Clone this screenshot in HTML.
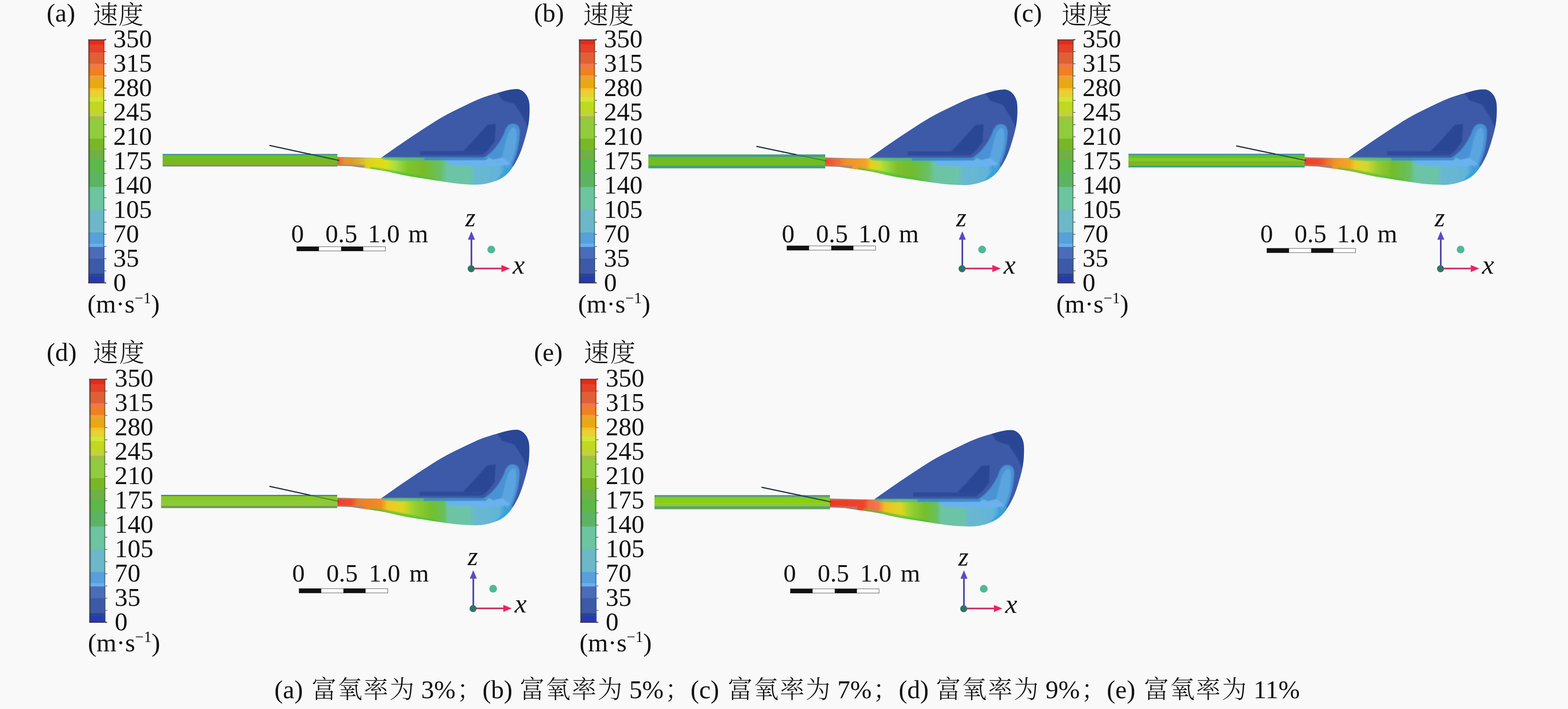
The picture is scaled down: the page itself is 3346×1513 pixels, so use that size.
<!DOCTYPE html>
<html lang="zh-CN"><head><meta charset="utf-8"><title>速度云图</title>
<style>html,body{margin:0;padding:0;background:#f9f9f9;}body{width:3346px;height:1513px;overflow:hidden;}svg{display:block;}text{font-family:"Liberation Serif", "Noto Serif CJK SC", serif;fill:#111;}</style>
</head><body>
<svg width="3346" height="1513" viewBox="0 0 3346 1513" role="img" aria-label="速度云图">
<defs>
<clipPath id="fclipa"><path d="M720 334.7 L783.5 336.4 L813.0 336.9 C821.2 331.2 846.8 313.1 862.0 302.8 C877.2 292.4 890.2 283.7 904.0 274.8 C917.8 265.8 931.3 257.0 945.0 249.2 C958.7 241.5 972.3 235.0 986.0 228.3 C999.7 221.7 1013.3 214.8 1027.0 209.5 C1040.7 204.2 1056.7 199.7 1068.0 196.5 C1079.3 193.3 1088.0 191.4 1095.0 190.6 C1102.0 189.8 1105.5 189.9 1110.0 191.6 C1114.5 193.3 1118.8 196.8 1122.0 201.0 C1125.2 205.2 1127.7 210.5 1129.0 217.0 C1130.3 223.5 1130.2 232.3 1130.0 240.0 C1129.8 247.7 1129.3 254.8 1128.0 263.0 C1126.7 271.2 1125.0 278.9 1122.0 289.5 C1119.0 300.1 1114.5 315.6 1110.0 326.5 C1105.5 337.4 1100.2 347.1 1095.0 355.0 C1089.8 362.9 1085.2 368.8 1079.0 374.0 C1072.8 379.2 1066.7 382.8 1058.0 386.0 C1049.3 389.2 1039.0 392.4 1027.0 393.5 C1015.0 394.6 999.7 393.7 986.0 392.7 C972.3 391.7 958.7 389.4 945.0 387.5 C931.3 385.5 917.8 383.3 904.0 381.1 C890.2 378.8 875.8 376.6 862.0 374.0 C848.2 371.3 834.7 367.5 821.0 365.0 C807.3 362.5 786.8 360.0 780.0 359.0 L750 354.8 L720 353.8 Z"/></clipPath>
<clipPath id="fclipb"><path d="M720 335.1 L783.5 336.7 L813.0 337.1 C821.2 331.4 846.8 313.1 862.0 302.8 C877.2 292.4 890.2 283.7 904.0 274.8 C917.8 265.8 931.3 257.0 945.0 249.2 C958.7 241.5 972.3 235.0 986.0 228.3 C999.7 221.7 1013.3 214.8 1027.0 209.5 C1040.7 204.2 1056.7 199.7 1068.0 196.5 C1079.3 193.3 1088.0 191.4 1095.0 190.6 C1102.0 189.8 1105.5 189.9 1110.0 191.6 C1114.5 193.3 1118.8 196.8 1122.0 201.0 C1125.2 205.2 1127.7 210.5 1129.0 217.0 C1130.3 223.5 1130.2 232.3 1130.0 240.0 C1129.8 247.7 1129.3 254.8 1128.0 263.0 C1126.7 271.2 1125.0 278.9 1122.0 289.5 C1119.0 300.1 1114.5 315.6 1110.0 326.5 C1105.5 337.4 1100.2 347.1 1095.0 355.0 C1089.8 362.9 1085.2 368.8 1079.0 374.0 C1072.8 379.2 1066.7 382.8 1058.0 386.0 C1049.3 389.2 1039.0 392.4 1027.0 393.5 C1015.0 394.6 999.7 393.7 986.0 392.8 C972.3 391.9 958.7 389.7 945.0 387.9 C931.3 386.0 917.8 383.9 904.0 381.7 C890.2 379.6 875.8 377.6 862.0 374.9 C848.2 372.3 834.7 368.4 821.0 365.8 C807.3 363.2 786.8 360.6 780.0 359.6 L750 355.0 L720 354.0 Z"/></clipPath>
<clipPath id="fclipc"><path d="M720 334.9 L783.5 336.6 L813.0 337.0 C821.2 331.3 846.8 313.1 862.0 302.8 C877.2 292.4 890.2 283.7 904.0 274.8 C917.8 265.8 931.3 257.0 945.0 249.2 C958.7 241.5 972.3 235.0 986.0 228.3 C999.7 221.7 1013.3 214.8 1027.0 209.5 C1040.7 204.2 1056.7 199.7 1068.0 196.5 C1079.3 193.3 1088.0 191.4 1095.0 190.6 C1102.0 189.8 1105.5 189.9 1110.0 191.6 C1114.5 193.3 1118.8 196.8 1122.0 201.0 C1125.2 205.2 1127.7 210.5 1129.0 217.0 C1130.3 223.5 1130.2 232.3 1130.0 240.0 C1129.8 247.7 1129.3 254.8 1128.0 263.0 C1126.7 271.2 1125.0 278.9 1122.0 289.5 C1119.0 300.1 1114.5 315.6 1110.0 326.5 C1105.5 337.4 1100.2 347.1 1095.0 355.0 C1089.8 362.9 1085.2 368.8 1079.0 374.0 C1072.8 379.2 1066.7 382.8 1058.0 386.0 C1049.3 389.2 1039.0 392.4 1027.0 393.5 C1015.0 394.6 999.7 393.7 986.0 392.8 C972.3 391.8 958.7 389.6 945.0 387.7 C931.3 385.8 917.8 383.6 904.0 381.4 C890.2 379.2 875.8 377.1 862.0 374.4 C848.2 371.8 834.7 367.9 821.0 365.4 C807.3 362.9 786.8 360.3 780.0 359.3 L750 354.9 L720 353.9 Z"/></clipPath>
<clipPath id="fclipd"><path d="M720 335.1 L783.5 336.7 L813.0 337.1 C821.2 331.4 846.8 313.1 862.0 302.8 C877.2 292.4 890.2 283.7 904.0 274.8 C917.8 265.8 931.3 257.0 945.0 249.2 C958.7 241.5 972.3 235.0 986.0 228.3 C999.7 221.7 1013.3 214.8 1027.0 209.5 C1040.7 204.2 1056.7 199.7 1068.0 196.5 C1079.3 193.3 1088.0 191.4 1095.0 190.6 C1102.0 189.8 1105.5 189.9 1110.0 191.6 C1114.5 193.3 1118.8 196.8 1122.0 201.0 C1125.2 205.2 1127.7 210.5 1129.0 217.0 C1130.3 223.5 1130.2 232.3 1130.0 240.0 C1129.8 247.7 1129.3 254.8 1128.0 263.0 C1126.7 271.2 1125.0 278.9 1122.0 289.5 C1119.0 300.1 1114.5 315.6 1110.0 326.5 C1105.5 337.4 1100.2 347.1 1095.0 355.0 C1089.8 362.9 1085.2 368.8 1079.0 374.0 C1072.8 379.2 1066.7 382.8 1058.0 386.0 C1049.3 389.2 1039.0 392.4 1027.0 393.5 C1015.0 394.6 999.7 393.7 986.0 392.8 C972.3 391.9 958.7 389.7 945.0 387.9 C931.3 386.0 917.8 383.9 904.0 381.7 C890.2 379.6 875.8 377.6 862.0 374.9 C848.2 372.3 834.7 368.4 821.0 365.8 C807.3 363.2 786.8 360.6 780.0 359.6 L750 355.0 L720 354.0 Z"/></clipPath>
<clipPath id="fclipe"><path d="M720 334.9 L783.5 336.6 L813.0 337.0 C821.2 331.3 846.8 313.1 862.0 302.8 C877.2 292.4 890.2 283.7 904.0 274.8 C917.8 265.8 931.3 257.0 945.0 249.2 C958.7 241.5 972.3 235.0 986.0 228.3 C999.7 221.7 1013.3 214.8 1027.0 209.5 C1040.7 204.2 1056.7 199.7 1068.0 196.5 C1079.3 193.3 1088.0 191.4 1095.0 190.6 C1102.0 189.8 1105.5 189.9 1110.0 191.6 C1114.5 193.3 1118.8 196.8 1122.0 201.0 C1125.2 205.2 1127.7 210.5 1129.0 217.0 C1130.3 223.5 1130.2 232.3 1130.0 240.0 C1129.8 247.7 1129.3 254.8 1128.0 263.0 C1126.7 271.2 1125.0 278.9 1122.0 289.5 C1119.0 300.1 1114.5 315.6 1110.0 326.5 C1105.5 337.4 1100.2 347.1 1095.0 355.0 C1089.8 362.9 1085.2 368.8 1079.0 374.0 C1072.8 379.2 1066.7 382.8 1058.0 386.0 C1049.3 389.2 1039.0 392.4 1027.0 393.5 C1015.0 394.6 999.7 393.7 986.0 392.8 C972.3 391.8 958.7 389.6 945.0 387.7 C931.3 385.8 917.8 383.6 904.0 381.4 C890.2 379.2 875.8 377.1 862.0 374.4 C848.2 371.8 834.7 367.9 821.0 365.4 C807.3 362.9 786.8 360.3 780.0 359.3 L750 354.9 L720 353.9 Z"/></clipPath>
<filter id="soft" x="-5%" y="-5%" width="110%" height="110%"><feGaussianBlur stdDeviation="1.2"/></filter>
<filter id="soft2" x="-20%" y="-2%" width="140%" height="104%"><feGaussianBlur stdDeviation="0.7"/></filter>
<linearGradient id="banda" gradientUnits="userSpaceOnUse" x1="720" y1="0" x2="1085" y2="0"><stop offset="0.0000" stop-color="#e8582a"/><stop offset="0.0164" stop-color="#e8782a"/><stop offset="0.0438" stop-color="#e8952a"/><stop offset="0.0877" stop-color="#e09a2c"/><stop offset="0.1260" stop-color="#d8b030"/><stop offset="0.1808" stop-color="#e0d41c"/><stop offset="0.2904" stop-color="#dce018"/><stop offset="0.3342" stop-color="#a8e040"/><stop offset="0.4110" stop-color="#80c42c"/><stop offset="0.5068" stop-color="#78bc28"/><stop offset="0.5973" stop-color="#68c060"/><stop offset="0.6438" stop-color="#6cc4a4"/><stop offset="0.7753" stop-color="#6cc4a8"/><stop offset="0.8055" stop-color="#6ab8d0"/><stop offset="0.9479" stop-color="#62b4d8"/><stop offset="0.9918" stop-color="#3c9cd8"/></linearGradient>
<linearGradient id="bandb" gradientUnits="userSpaceOnUse" x1="720" y1="0" x2="1085" y2="0"><stop offset="0.0000" stop-color="#f04c30"/><stop offset="0.0356" stop-color="#f05a30"/><stop offset="0.0795" stop-color="#f07030"/><stop offset="0.1151" stop-color="#f09028"/><stop offset="0.2356" stop-color="#f0a428"/><stop offset="0.2685" stop-color="#e8d020"/><stop offset="0.3178" stop-color="#c8dc30"/><stop offset="0.3616" stop-color="#98d838"/><stop offset="0.4219" stop-color="#7cc02c"/><stop offset="0.5068" stop-color="#70bc30"/><stop offset="0.5973" stop-color="#68c060"/><stop offset="0.6438" stop-color="#6cc4a4"/><stop offset="0.7753" stop-color="#6cc4a8"/><stop offset="0.8055" stop-color="#6ab8d0"/><stop offset="0.9479" stop-color="#62b4d8"/><stop offset="0.9918" stop-color="#3c9cd8"/></linearGradient>
<linearGradient id="bandc" gradientUnits="userSpaceOnUse" x1="720" y1="0" x2="1085" y2="0"><stop offset="0.0000" stop-color="#f04028"/><stop offset="0.0932" stop-color="#f04c2c"/><stop offset="0.1315" stop-color="#f07028"/><stop offset="0.1753" stop-color="#f09428"/><stop offset="0.2630" stop-color="#f0a824"/><stop offset="0.2959" stop-color="#e8d020"/><stop offset="0.3616" stop-color="#d0d830"/><stop offset="0.4274" stop-color="#98cc30"/><stop offset="0.5151" stop-color="#74bc2c"/><stop offset="0.6137" stop-color="#68c060"/><stop offset="0.6438" stop-color="#6cc4a4"/><stop offset="0.7753" stop-color="#6cc4a8"/><stop offset="0.8055" stop-color="#6ab8d0"/><stop offset="0.9479" stop-color="#62b4d8"/><stop offset="0.9918" stop-color="#3c9cd8"/></linearGradient>
<linearGradient id="bandd" gradientUnits="userSpaceOnUse" x1="720" y1="0" x2="1085" y2="0"><stop offset="0.0000" stop-color="#f03c24"/><stop offset="0.0822" stop-color="#f04c2c"/><stop offset="0.1205" stop-color="#f07c28"/><stop offset="0.2575" stop-color="#f08c28"/><stop offset="0.2959" stop-color="#f0c820"/><stop offset="0.3836" stop-color="#dcd820"/><stop offset="0.4493" stop-color="#98d030"/><stop offset="0.5479" stop-color="#74c02c"/><stop offset="0.6301" stop-color="#68c060"/><stop offset="0.6438" stop-color="#6cc4a4"/><stop offset="0.7753" stop-color="#6cc4a8"/><stop offset="0.8055" stop-color="#6ab8d0"/><stop offset="0.9479" stop-color="#62b4d8"/><stop offset="0.9918" stop-color="#3c9cd8"/></linearGradient>
<linearGradient id="bande" gradientUnits="userSpaceOnUse" x1="720" y1="0" x2="1085" y2="0"><stop offset="0.0000" stop-color="#ee3820"/><stop offset="0.1973" stop-color="#f04428"/><stop offset="0.2247" stop-color="#f06c44"/><stop offset="0.2795" stop-color="#f07848"/><stop offset="0.3178" stop-color="#f0c020"/><stop offset="0.4110" stop-color="#dcd820"/><stop offset="0.4658" stop-color="#98d030"/><stop offset="0.5479" stop-color="#74c02c"/><stop offset="0.6192" stop-color="#68c060"/><stop offset="0.6438" stop-color="#6cc4a4"/><stop offset="0.7753" stop-color="#6cc4a8"/><stop offset="0.8055" stop-color="#6ab8d0"/><stop offset="0.9479" stop-color="#62b4d8"/><stop offset="0.9918" stop-color="#3c9cd8"/></linearGradient>
</defs>
<rect width="3346" height="1513" fill="#f9f9f9"/>
<g id="panel-a">
<g filter="url(#soft2)">
<rect x="189.0" y="84.0" width="34.0" height="11.5" fill="#e62a14"/>
<rect x="189.0" y="95.0" width="34.0" height="17.5" fill="#e6402a"/>
<rect x="189.0" y="112.0" width="34.0" height="24.5" fill="#e06034"/>
<rect x="189.0" y="136.0" width="34.0" height="8.5" fill="#f0784c"/>
<rect x="189.0" y="144.0" width="34.0" height="17.5" fill="#f08022"/>
<rect x="189.0" y="161.0" width="34.0" height="7.5" fill="#f0a034"/>
<rect x="189.0" y="168.0" width="34.0" height="20.5" fill="#e8a818"/>
<rect x="189.0" y="188.0" width="34.0" height="5.5" fill="#f8c024"/>
<rect x="189.0" y="193.0" width="34.0" height="14.5" fill="#e8d034"/>
<rect x="189.0" y="207.0" width="34.0" height="10.5" fill="#d0e830"/>
<rect x="189.0" y="217.0" width="34.0" height="24.5" fill="#c0d822"/>
<rect x="189.0" y="241.0" width="34.0" height="7.5" fill="#c0d050"/>
<rect x="189.0" y="248.0" width="34.0" height="8.5" fill="#a4c040"/>
<rect x="189.0" y="256.0" width="34.0" height="40.5" fill="#90cc3c"/>
<rect x="189.0" y="296.0" width="34.0" height="24.5" fill="#78b828"/>
<rect x="189.0" y="320.0" width="34.0" height="20.5" fill="#70b044"/>
<rect x="189.0" y="340.0" width="34.0" height="28.5" fill="#5cb848"/>
<rect x="189.0" y="368.0" width="34.0" height="31.5" fill="#5cb464"/>
<rect x="189.0" y="399.0" width="34.0" height="49.5" fill="#6cc4a0"/>
<rect x="189.0" y="448.0" width="34.0" height="48.5" fill="#6cb8c8"/>
<rect x="189.0" y="496.0" width="34.0" height="24.5" fill="#58a0dc"/>
<rect x="189.0" y="520.0" width="34.0" height="7.5" fill="#68b0f0"/>
<rect x="189.0" y="527.0" width="34.0" height="25.5" fill="#4c6cb8"/>
<rect x="189.0" y="552.0" width="34.0" height="32.5" fill="#3c5aa8"/>
<rect x="189.0" y="584.0" width="34.0" height="7.5" fill="#2c4490"/>
<rect x="189.0" y="591.0" width="34.0" height="13.5" fill="#2838b8"/>
<rect x="188.0" y="84.0" width="4" height="520.0" fill="#3a3a3a" opacity="0.55"/>
<rect x="188.0" y="84.0" width="38.0" height="2.5" fill="#4a4a4a" opacity="0.8"/>
<rect x="188.0" y="602.0" width="38.0" height="2.5" fill="#3a3a3a" opacity="0.8"/>
<rect x="220.0" y="84.0" width="2" height="520.0" fill="#4a5a4a" opacity="0.5"/>
<rect x="222.0" y="83.0" width="5" height="2" fill="#555" opacity="0.7"/>
<rect x="222.0" y="109.0" width="5" height="2" fill="#555" opacity="0.7"/>
<rect x="222.0" y="135.0" width="5" height="2" fill="#555" opacity="0.7"/>
<rect x="222.0" y="161.0" width="5" height="2" fill="#555" opacity="0.7"/>
<rect x="222.0" y="187.0" width="5" height="2" fill="#555" opacity="0.7"/>
<rect x="222.0" y="213.0" width="5" height="2" fill="#555" opacity="0.7"/>
<rect x="222.0" y="239.0" width="5" height="2" fill="#555" opacity="0.7"/>
<rect x="222.0" y="265.0" width="5" height="2" fill="#555" opacity="0.7"/>
<rect x="222.0" y="291.0" width="5" height="2" fill="#555" opacity="0.7"/>
<rect x="222.0" y="317.0" width="5" height="2" fill="#555" opacity="0.7"/>
<rect x="222.0" y="343.0" width="5" height="2" fill="#555" opacity="0.7"/>
<rect x="222.0" y="369.0" width="5" height="2" fill="#555" opacity="0.7"/>
<rect x="222.0" y="395.0" width="5" height="2" fill="#555" opacity="0.7"/>
<rect x="222.0" y="421.0" width="5" height="2" fill="#555" opacity="0.7"/>
<rect x="222.0" y="447.0" width="5" height="2" fill="#555" opacity="0.7"/>
<rect x="222.0" y="473.0" width="5" height="2" fill="#555" opacity="0.7"/>
<rect x="222.0" y="499.0" width="5" height="2" fill="#555" opacity="0.7"/>
<rect x="222.0" y="525.0" width="5" height="2" fill="#555" opacity="0.7"/>
<rect x="222.0" y="551.0" width="5" height="2" fill="#555" opacity="0.7"/>
<rect x="222.0" y="577.0" width="5" height="2" fill="#555" opacity="0.7"/>
<rect x="222.0" y="603.0" width="5" height="2" fill="#555" opacity="0.7"/>
</g>
<text x="241.7" y="100.5" font-size="55.0" >350</text>
<text x="241.7" y="152.5" font-size="55.0" >315</text>
<text x="241.7" y="204.5" font-size="55.0" >280</text>
<text x="241.7" y="256.5" font-size="55.0" >245</text>
<text x="241.7" y="308.5" font-size="55.0" >210</text>
<text x="241.7" y="360.5" font-size="55.0" >175</text>
<text x="241.7" y="412.5" font-size="55.0" >140</text>
<text x="241.7" y="464.5" font-size="55.0" >105</text>
<text x="241.7" y="516.5" font-size="55.0" >70</text>
<text x="241.7" y="568.5" font-size="55.0" >35</text>
<text x="241.7" y="620.5" font-size="55.0" >0</text>
<text x="99.5" y="45.5" font-size="55.0" >(a)</text>
<text x="198.0" y="50.5" font-size="54.0" font-weight="300" textLength="108.5">速度</text>
<text x="186.5" y="667.0" font-size="55">(m·s<tspan dy="-20" font-size="33">−1</tspan><tspan dy="20" font-size="55">)</tspan></text>
<g>
<rect x="347.0" y="328.5" width="373.0" height="2.7" fill="#4a86a0"/>
<rect x="347.0" y="330.9" width="373.0" height="5.9" fill="#5cc81c"/>
<rect x="347.0" y="336.4" width="373.0" height="15.9" fill="#7ab820"/>
<rect x="347.0" y="352.1" width="373.0" height="3.2" fill="#808080"/>
</g>
<g transform="translate(0.0 0.0) translate(720 340) scale(1.0000) translate(-720 -340)">
<g clip-path="url(#fclipa)" filter="url(#soft)">
<rect x="700" y="180" width="450" height="230" fill="#3d5aa8"/>
<path d="M1056 190 L1140 180 L1140 300 L1116 250 L1098 222 L1072 214Z" fill="#2b4696"/>
<path d="M984 327 L1010 300 L1040 266 L1058 264 L1056 302 L1040 322 L1030 330Z" fill="#2b4696"/>
<path d="M896 322 L1036 322 L1030 331 L896 331Z" fill="#2f4a9a"/>
<path d="M1030 338 C1052 326 1066 306 1076 284 C1080 270 1086 264 1094 264 C1106 264 1110 272 1109 286 C1107 316 1100 350 1072 386 L1030 386Z" fill="#4a92d4"/>
<path d="M1080 300 C1084 282 1090 272 1097 272 C1103 274 1104 290 1100 314 C1096 336 1090 350 1082 360 L1070 340Z" fill="#5aa4e0"/>
<path d="M715 320 L783.5 335.9 L811 335.9 L900 336.3 L1045 336.5 L1076 352 L1090 402 L715 402Z" fill="url(#banda)"/>
<path d="M716 331.7 L792 334.2 L792 337.3 L716 336.9 Z" fill="#8e988e" opacity="0.85"/>
<path d="M716 351.1 L778 352.1 L778 357.8 L716 356.8 Z" fill="#8c8c8c" opacity="0.85"/>
<path d="M811 336 L912 336.5 L912 343 L850 343 L820 341Z" fill="#4cb888" opacity="0.75"/>
<path d="M790 356 L830 362 L930 382 L930 390 L790 362Z" fill="#48c040" opacity="0.7"/>
<path d="M905 337 L1042 337 L1036 342.5 L905 342Z" fill="#2e88d0" opacity="0.9"/>
<path d="M950 342 L1050 341.5 L1072 336 L1090 350 L1066 354 L1000 354 L960 352Z" fill="#6ab2ee"/>
<path d="M1066 376 L1090 350 L1100 360 L1084 392 L1050 396Z" fill="#34a4dc" opacity="0.8"/>
</g>
</g>
<line x1="659.2" y1="328.5" x2="724.0" y2="342.5" stroke="#143c58" stroke-width="2.8" opacity="0.85"/><line x1="576.0" y1="310.5" x2="661.2" y2="328.9" stroke="#20323c" stroke-width="2.6" stroke-linecap="round"/>
<g>
<rect x="633.3" y="526.5" width="189.2" height="9" fill="#fff" stroke="#555" stroke-width="1"/>
<rect x="633.3" y="526.2" width="47.3" height="9.6" fill="#111"/>
<rect x="727.9" y="526.2" width="47.3" height="9.6" fill="#111"/>
</g>
<text x="621.3" y="517.0" font-size="54.5" >0</text>
<text x="694.3" y="517.0" font-size="54.5" >0.5</text>
<text x="784.8" y="517.0" font-size="54.5" >1.0</text>
<text x="871.3" y="517.0" font-size="54.5" >m</text>
<g>
<line x1="1006.0" y1="573.0" x2="1006.0" y2="511.0" stroke="#4a3ca0" stroke-width="3.4"/>
<path d="M1006.0 493.5 l-7.5 18 l15 0Z" fill="#5a48c8"/>
<line x1="1006.0" y1="573.0" x2="1070.0" y2="573.0" stroke="#c83060" stroke-width="3.4"/>
<path d="M1088.0 573.0 l-18 -7.5 l0 15Z" fill="#f0205c"/>
<circle cx="1005.5" cy="573.5" r="7.5" fill="#2f7464"/>
<circle cx="1048.3" cy="532.5" r="8.3" fill="#50b898"/>
</g>
<text x="993.0" y="483.0" font-size="56.0" font-style="italic">z</text>
<text x="1094.0" y="584.0" font-size="58.0" font-style="italic">x</text>
</g>
<g id="panel-b">
<g filter="url(#soft2)">
<rect x="1236.0" y="84.0" width="34.0" height="11.5" fill="#e62a14"/>
<rect x="1236.0" y="95.0" width="34.0" height="17.5" fill="#e6402a"/>
<rect x="1236.0" y="112.0" width="34.0" height="24.5" fill="#e06034"/>
<rect x="1236.0" y="136.0" width="34.0" height="8.5" fill="#f0784c"/>
<rect x="1236.0" y="144.0" width="34.0" height="17.5" fill="#f08022"/>
<rect x="1236.0" y="161.0" width="34.0" height="7.5" fill="#f0a034"/>
<rect x="1236.0" y="168.0" width="34.0" height="20.5" fill="#e8a818"/>
<rect x="1236.0" y="188.0" width="34.0" height="5.5" fill="#f8c024"/>
<rect x="1236.0" y="193.0" width="34.0" height="14.5" fill="#e8d034"/>
<rect x="1236.0" y="207.0" width="34.0" height="10.5" fill="#d0e830"/>
<rect x="1236.0" y="217.0" width="34.0" height="24.5" fill="#c0d822"/>
<rect x="1236.0" y="241.0" width="34.0" height="7.5" fill="#c0d050"/>
<rect x="1236.0" y="248.0" width="34.0" height="8.5" fill="#a4c040"/>
<rect x="1236.0" y="256.0" width="34.0" height="40.5" fill="#90cc3c"/>
<rect x="1236.0" y="296.0" width="34.0" height="24.5" fill="#78b828"/>
<rect x="1236.0" y="320.0" width="34.0" height="20.5" fill="#70b044"/>
<rect x="1236.0" y="340.0" width="34.0" height="28.5" fill="#5cb848"/>
<rect x="1236.0" y="368.0" width="34.0" height="31.5" fill="#5cb464"/>
<rect x="1236.0" y="399.0" width="34.0" height="49.5" fill="#6cc4a0"/>
<rect x="1236.0" y="448.0" width="34.0" height="48.5" fill="#6cb8c8"/>
<rect x="1236.0" y="496.0" width="34.0" height="24.5" fill="#58a0dc"/>
<rect x="1236.0" y="520.0" width="34.0" height="7.5" fill="#68b0f0"/>
<rect x="1236.0" y="527.0" width="34.0" height="25.5" fill="#4c6cb8"/>
<rect x="1236.0" y="552.0" width="34.0" height="32.5" fill="#3c5aa8"/>
<rect x="1236.0" y="584.0" width="34.0" height="7.5" fill="#2c4490"/>
<rect x="1236.0" y="591.0" width="34.0" height="13.5" fill="#2838b8"/>
<rect x="1235.0" y="84.0" width="4" height="520.0" fill="#3a3a3a" opacity="0.55"/>
<rect x="1235.0" y="84.0" width="38.0" height="2.5" fill="#4a4a4a" opacity="0.8"/>
<rect x="1235.0" y="602.0" width="38.0" height="2.5" fill="#3a3a3a" opacity="0.8"/>
<rect x="1267.0" y="84.0" width="2" height="520.0" fill="#4a5a4a" opacity="0.5"/>
<rect x="1269.0" y="83.0" width="5" height="2" fill="#555" opacity="0.7"/>
<rect x="1269.0" y="109.0" width="5" height="2" fill="#555" opacity="0.7"/>
<rect x="1269.0" y="135.0" width="5" height="2" fill="#555" opacity="0.7"/>
<rect x="1269.0" y="161.0" width="5" height="2" fill="#555" opacity="0.7"/>
<rect x="1269.0" y="187.0" width="5" height="2" fill="#555" opacity="0.7"/>
<rect x="1269.0" y="213.0" width="5" height="2" fill="#555" opacity="0.7"/>
<rect x="1269.0" y="239.0" width="5" height="2" fill="#555" opacity="0.7"/>
<rect x="1269.0" y="265.0" width="5" height="2" fill="#555" opacity="0.7"/>
<rect x="1269.0" y="291.0" width="5" height="2" fill="#555" opacity="0.7"/>
<rect x="1269.0" y="317.0" width="5" height="2" fill="#555" opacity="0.7"/>
<rect x="1269.0" y="343.0" width="5" height="2" fill="#555" opacity="0.7"/>
<rect x="1269.0" y="369.0" width="5" height="2" fill="#555" opacity="0.7"/>
<rect x="1269.0" y="395.0" width="5" height="2" fill="#555" opacity="0.7"/>
<rect x="1269.0" y="421.0" width="5" height="2" fill="#555" opacity="0.7"/>
<rect x="1269.0" y="447.0" width="5" height="2" fill="#555" opacity="0.7"/>
<rect x="1269.0" y="473.0" width="5" height="2" fill="#555" opacity="0.7"/>
<rect x="1269.0" y="499.0" width="5" height="2" fill="#555" opacity="0.7"/>
<rect x="1269.0" y="525.0" width="5" height="2" fill="#555" opacity="0.7"/>
<rect x="1269.0" y="551.0" width="5" height="2" fill="#555" opacity="0.7"/>
<rect x="1269.0" y="577.0" width="5" height="2" fill="#555" opacity="0.7"/>
<rect x="1269.0" y="603.0" width="5" height="2" fill="#555" opacity="0.7"/>
</g>
<text x="1288.7" y="100.5" font-size="55.0" >350</text>
<text x="1288.7" y="152.5" font-size="55.0" >315</text>
<text x="1288.7" y="204.5" font-size="55.0" >280</text>
<text x="1288.7" y="256.5" font-size="55.0" >245</text>
<text x="1288.7" y="308.5" font-size="55.0" >210</text>
<text x="1288.7" y="360.5" font-size="55.0" >175</text>
<text x="1288.7" y="412.5" font-size="55.0" >140</text>
<text x="1288.7" y="464.5" font-size="55.0" >105</text>
<text x="1288.7" y="516.5" font-size="55.0" >70</text>
<text x="1288.7" y="568.5" font-size="55.0" >35</text>
<text x="1288.7" y="620.5" font-size="55.0" >0</text>
<text x="1139.5" y="45.5" font-size="55.0" >(b)</text>
<text x="1244.2" y="50.5" font-size="54.0" font-weight="300" textLength="108.5">速度</text>
<text x="1233.5" y="667.0" font-size="55">(m·s<tspan dy="-20" font-size="33">−1</tspan><tspan dy="20" font-size="55">)</tspan></text>
<g>
<rect x="1383.5" y="329.5" width="377.5" height="6.2" fill="#44a07c"/>
<rect x="1383.5" y="335.4" width="377.5" height="18.0" fill="#70bc24"/>
<rect x="1383.5" y="353.1" width="377.5" height="6.2" fill="#44a07c"/>
</g>
<g transform="translate(1041.0 1.0) translate(720 340) scale(1.0000) translate(-720 -340)">
<g clip-path="url(#fclipb)" filter="url(#soft)">
<rect x="700" y="180" width="450" height="230" fill="#3d5aa8"/>
<path d="M1056 190 L1140 180 L1140 300 L1116 250 L1098 222 L1072 214Z" fill="#2b4696"/>
<path d="M984 327 L1010 300 L1040 266 L1058 264 L1056 302 L1040 322 L1030 330Z" fill="#2b4696"/>
<path d="M896 322 L1036 322 L1030 331 L896 331Z" fill="#2f4a9a"/>
<path d="M1030 338 C1052 326 1066 306 1076 284 C1080 270 1086 264 1094 264 C1106 264 1110 272 1109 286 C1107 316 1100 350 1072 386 L1030 386Z" fill="#4a92d4"/>
<path d="M1080 300 C1084 282 1090 272 1097 272 C1103 274 1104 290 1100 314 C1096 336 1090 350 1082 360 L1070 340Z" fill="#5aa4e0"/>
<path d="M715 320 L783.5 336.2 L811 336.1 L900 336.3 L1045 336.5 L1076 352 L1090 402 L715 402Z" fill="url(#bandb)"/>
<path d="M716 332.1 L792 334.6 L792 337.7 L716 337.3 Z" fill="#8e988e" opacity="0.85"/>
<path d="M716 351.4 L778 352.4 L778 358.0 L716 357.0 Z" fill="#8c8c8c" opacity="0.85"/>
<path d="M811 336 L912 336.5 L912 343 L850 343 L820 341Z" fill="#4cb888" opacity="0.75"/>
<path d="M790 356 L830 362 L930 382 L930 390 L790 362Z" fill="#48c040" opacity="0.7"/>
<path d="M905 337 L1042 337 L1036 342.5 L905 342Z" fill="#2e88d0" opacity="0.9"/>
<path d="M950 342 L1050 341.5 L1072 336 L1090 350 L1066 354 L1000 354 L960 352Z" fill="#6ab2ee"/>
<path d="M1066 376 L1090 350 L1100 360 L1084 392 L1050 396Z" fill="#34a4dc" opacity="0.8"/>
</g>
</g>
<line x1="1696.5" y1="329.5" x2="1764.0" y2="343.5" stroke="#143c58" stroke-width="2.8" opacity="0.40"/><line x1="1615.0" y1="312.6" x2="1698.5" y2="329.9" stroke="#20323c" stroke-width="2.6" stroke-linecap="round"/>
<g>
<rect x="1679.2" y="524.8" width="189.2" height="9" fill="#fff" stroke="#555" stroke-width="1"/>
<rect x="1679.2" y="524.5" width="47.3" height="9.6" fill="#111"/>
<rect x="1773.8" y="524.5" width="47.3" height="9.6" fill="#111"/>
</g>
<text x="1668.3" y="517.0" font-size="54.5" >0</text>
<text x="1741.3" y="517.0" font-size="54.5" >0.5</text>
<text x="1831.8" y="517.0" font-size="54.5" >1.0</text>
<text x="1918.3" y="517.0" font-size="54.5" >m</text>
<g>
<line x1="2053.5" y1="573.0" x2="2053.5" y2="511.0" stroke="#4a3ca0" stroke-width="3.4"/>
<path d="M2053.5 493.5 l-7.5 18 l15 0Z" fill="#5a48c8"/>
<line x1="2053.5" y1="573.0" x2="2117.5" y2="573.0" stroke="#c83060" stroke-width="3.4"/>
<path d="M2135.5 573.0 l-18 -7.5 l0 15Z" fill="#f0205c"/>
<circle cx="2053.0" cy="573.5" r="7.5" fill="#2f7464"/>
<circle cx="2095.8" cy="532.5" r="8.3" fill="#50b898"/>
</g>
<text x="2040.5" y="483.0" font-size="56.0" font-style="italic">z</text>
<text x="2141.5" y="584.0" font-size="58.0" font-style="italic">x</text>
</g>
<g id="panel-c">
<g filter="url(#soft2)">
<rect x="2257.0" y="84.0" width="34.0" height="11.5" fill="#e62a14"/>
<rect x="2257.0" y="95.0" width="34.0" height="17.5" fill="#e6402a"/>
<rect x="2257.0" y="112.0" width="34.0" height="24.5" fill="#e06034"/>
<rect x="2257.0" y="136.0" width="34.0" height="8.5" fill="#f0784c"/>
<rect x="2257.0" y="144.0" width="34.0" height="17.5" fill="#f08022"/>
<rect x="2257.0" y="161.0" width="34.0" height="7.5" fill="#f0a034"/>
<rect x="2257.0" y="168.0" width="34.0" height="20.5" fill="#e8a818"/>
<rect x="2257.0" y="188.0" width="34.0" height="5.5" fill="#f8c024"/>
<rect x="2257.0" y="193.0" width="34.0" height="14.5" fill="#e8d034"/>
<rect x="2257.0" y="207.0" width="34.0" height="10.5" fill="#d0e830"/>
<rect x="2257.0" y="217.0" width="34.0" height="24.5" fill="#c0d822"/>
<rect x="2257.0" y="241.0" width="34.0" height="7.5" fill="#c0d050"/>
<rect x="2257.0" y="248.0" width="34.0" height="8.5" fill="#a4c040"/>
<rect x="2257.0" y="256.0" width="34.0" height="40.5" fill="#90cc3c"/>
<rect x="2257.0" y="296.0" width="34.0" height="24.5" fill="#78b828"/>
<rect x="2257.0" y="320.0" width="34.0" height="20.5" fill="#70b044"/>
<rect x="2257.0" y="340.0" width="34.0" height="28.5" fill="#5cb848"/>
<rect x="2257.0" y="368.0" width="34.0" height="31.5" fill="#5cb464"/>
<rect x="2257.0" y="399.0" width="34.0" height="49.5" fill="#6cc4a0"/>
<rect x="2257.0" y="448.0" width="34.0" height="48.5" fill="#6cb8c8"/>
<rect x="2257.0" y="496.0" width="34.0" height="24.5" fill="#58a0dc"/>
<rect x="2257.0" y="520.0" width="34.0" height="7.5" fill="#68b0f0"/>
<rect x="2257.0" y="527.0" width="34.0" height="25.5" fill="#4c6cb8"/>
<rect x="2257.0" y="552.0" width="34.0" height="32.5" fill="#3c5aa8"/>
<rect x="2257.0" y="584.0" width="34.0" height="7.5" fill="#2c4490"/>
<rect x="2257.0" y="591.0" width="34.0" height="13.5" fill="#2838b8"/>
<rect x="2256.0" y="84.0" width="4" height="520.0" fill="#3a3a3a" opacity="0.55"/>
<rect x="2256.0" y="84.0" width="38.0" height="2.5" fill="#4a4a4a" opacity="0.8"/>
<rect x="2256.0" y="602.0" width="38.0" height="2.5" fill="#3a3a3a" opacity="0.8"/>
<rect x="2288.0" y="84.0" width="2" height="520.0" fill="#4a5a4a" opacity="0.5"/>
<rect x="2290.0" y="83.0" width="5" height="2" fill="#555" opacity="0.7"/>
<rect x="2290.0" y="109.0" width="5" height="2" fill="#555" opacity="0.7"/>
<rect x="2290.0" y="135.0" width="5" height="2" fill="#555" opacity="0.7"/>
<rect x="2290.0" y="161.0" width="5" height="2" fill="#555" opacity="0.7"/>
<rect x="2290.0" y="187.0" width="5" height="2" fill="#555" opacity="0.7"/>
<rect x="2290.0" y="213.0" width="5" height="2" fill="#555" opacity="0.7"/>
<rect x="2290.0" y="239.0" width="5" height="2" fill="#555" opacity="0.7"/>
<rect x="2290.0" y="265.0" width="5" height="2" fill="#555" opacity="0.7"/>
<rect x="2290.0" y="291.0" width="5" height="2" fill="#555" opacity="0.7"/>
<rect x="2290.0" y="317.0" width="5" height="2" fill="#555" opacity="0.7"/>
<rect x="2290.0" y="343.0" width="5" height="2" fill="#555" opacity="0.7"/>
<rect x="2290.0" y="369.0" width="5" height="2" fill="#555" opacity="0.7"/>
<rect x="2290.0" y="395.0" width="5" height="2" fill="#555" opacity="0.7"/>
<rect x="2290.0" y="421.0" width="5" height="2" fill="#555" opacity="0.7"/>
<rect x="2290.0" y="447.0" width="5" height="2" fill="#555" opacity="0.7"/>
<rect x="2290.0" y="473.0" width="5" height="2" fill="#555" opacity="0.7"/>
<rect x="2290.0" y="499.0" width="5" height="2" fill="#555" opacity="0.7"/>
<rect x="2290.0" y="525.0" width="5" height="2" fill="#555" opacity="0.7"/>
<rect x="2290.0" y="551.0" width="5" height="2" fill="#555" opacity="0.7"/>
<rect x="2290.0" y="577.0" width="5" height="2" fill="#555" opacity="0.7"/>
<rect x="2290.0" y="603.0" width="5" height="2" fill="#555" opacity="0.7"/>
</g>
<text x="2309.9" y="100.5" font-size="55.0" >350</text>
<text x="2309.9" y="152.5" font-size="55.0" >315</text>
<text x="2309.9" y="204.5" font-size="55.0" >280</text>
<text x="2309.9" y="256.5" font-size="55.0" >245</text>
<text x="2309.9" y="308.5" font-size="55.0" >210</text>
<text x="2309.9" y="360.5" font-size="55.0" >175</text>
<text x="2309.9" y="412.5" font-size="55.0" >140</text>
<text x="2309.9" y="464.5" font-size="55.0" >105</text>
<text x="2309.9" y="516.5" font-size="55.0" >70</text>
<text x="2309.9" y="568.5" font-size="55.0" >35</text>
<text x="2309.9" y="620.5" font-size="55.0" >0</text>
<text x="2162.5" y="45.5" font-size="55.0" >(c)</text>
<text x="2264.8" y="50.5" font-size="54.0" font-weight="300" textLength="108.5">速度</text>
<text x="2254.0" y="667.0" font-size="55">(m·s<tspan dy="-20" font-size="33">−1</tspan><tspan dy="20" font-size="55">)</tspan></text>
<g>
<rect x="2408.0" y="328.0" width="376.0" height="3.2" fill="#5090b0"/>
<rect x="2408.0" y="330.9" width="376.0" height="6.1" fill="#5cc420"/>
<rect x="2408.0" y="336.7" width="376.0" height="7.6" fill="#84c828"/>
<rect x="2408.0" y="343.9" width="376.0" height="9.9" fill="#7ab820"/>
<rect x="2408.0" y="353.5" width="376.0" height="3.8" fill="#3c9c78"/>
</g>
<g transform="translate(2064.0 0.5) translate(720 340) scale(1.0000) translate(-720 -340)">
<g clip-path="url(#fclipc)" filter="url(#soft)">
<rect x="700" y="180" width="450" height="230" fill="#3d5aa8"/>
<path d="M1056 190 L1140 180 L1140 300 L1116 250 L1098 222 L1072 214Z" fill="#2b4696"/>
<path d="M984 327 L1010 300 L1040 266 L1058 264 L1056 302 L1040 322 L1030 330Z" fill="#2b4696"/>
<path d="M896 322 L1036 322 L1030 331 L896 331Z" fill="#2f4a9a"/>
<path d="M1030 338 C1052 326 1066 306 1076 284 C1080 270 1086 264 1094 264 C1106 264 1110 272 1109 286 C1107 316 1100 350 1072 386 L1030 386Z" fill="#4a92d4"/>
<path d="M1080 300 C1084 282 1090 272 1097 272 C1103 274 1104 290 1100 314 C1096 336 1090 350 1082 360 L1070 340Z" fill="#5aa4e0"/>
<path d="M715 320 L783.5 336.1 L811 336.0 L900 336.3 L1045 336.5 L1076 352 L1090 402 L715 402Z" fill="url(#bandc)"/>
<path d="M716 331.9 L792 334.4 L792 337.5 L716 337.1 Z" fill="#8e988e" opacity="0.85"/>
<path d="M716 351.3 L778 352.3 L778 357.9 L716 356.9 Z" fill="#8c8c8c" opacity="0.85"/>
<path d="M811 336 L912 336.5 L912 343 L850 343 L820 341Z" fill="#4cb888" opacity="0.75"/>
<path d="M790 356 L830 362 L930 382 L930 390 L790 362Z" fill="#48c040" opacity="0.7"/>
<path d="M905 337 L1042 337 L1036 342.5 L905 342Z" fill="#2e88d0" opacity="0.9"/>
<path d="M950 342 L1050 341.5 L1072 336 L1090 350 L1066 354 L1000 354 L960 352Z" fill="#6ab2ee"/>
<path d="M1066 376 L1090 350 L1100 360 L1084 392 L1050 396Z" fill="#34a4dc" opacity="0.8"/>
</g>
</g>
<line x1="2717.8" y1="328.0" x2="2787.0" y2="342.5" stroke="#143c58" stroke-width="2.8" opacity="0.75"/><line x1="2639.0" y1="311.5" x2="2719.8" y2="328.4" stroke="#20323c" stroke-width="2.6" stroke-linecap="round"/>
<g>
<rect x="2703.4" y="530.1" width="189.2" height="9" fill="#fff" stroke="#555" stroke-width="1"/>
<rect x="2703.4" y="529.8" width="47.3" height="9.6" fill="#111"/>
<rect x="2798.0" y="529.8" width="47.3" height="9.6" fill="#111"/>
</g>
<text x="2689.3" y="517.0" font-size="54.5" >0</text>
<text x="2762.3" y="517.0" font-size="54.5" >0.5</text>
<text x="2852.8" y="517.0" font-size="54.5" >1.0</text>
<text x="2939.3" y="517.0" font-size="54.5" >m</text>
<g>
<line x1="3074.5" y1="573.0" x2="3074.5" y2="511.0" stroke="#4a3ca0" stroke-width="3.4"/>
<path d="M3074.5 493.5 l-7.5 18 l15 0Z" fill="#5a48c8"/>
<line x1="3074.5" y1="573.0" x2="3138.5" y2="573.0" stroke="#c83060" stroke-width="3.4"/>
<path d="M3156.5 573.0 l-18 -7.5 l0 15Z" fill="#f0205c"/>
<circle cx="3074.0" cy="573.5" r="7.5" fill="#2f7464"/>
<circle cx="3116.8" cy="532.5" r="8.3" fill="#50b898"/>
</g>
<text x="3061.5" y="483.0" font-size="56.0" font-style="italic">z</text>
<text x="3162.5" y="584.0" font-size="58.0" font-style="italic">x</text>
</g>
<g id="panel-d">
<g filter="url(#soft2)">
<rect x="191.0" y="808.5" width="34.0" height="11.5" fill="#e62a14"/>
<rect x="191.0" y="819.5" width="34.0" height="17.5" fill="#e6402a"/>
<rect x="191.0" y="836.5" width="34.0" height="24.5" fill="#e06034"/>
<rect x="191.0" y="860.5" width="34.0" height="8.5" fill="#f0784c"/>
<rect x="191.0" y="868.5" width="34.0" height="17.5" fill="#f08022"/>
<rect x="191.0" y="885.5" width="34.0" height="7.5" fill="#f0a034"/>
<rect x="191.0" y="892.5" width="34.0" height="20.5" fill="#e8a818"/>
<rect x="191.0" y="912.5" width="34.0" height="5.5" fill="#f8c024"/>
<rect x="191.0" y="917.5" width="34.0" height="14.5" fill="#e8d034"/>
<rect x="191.0" y="931.5" width="34.0" height="10.5" fill="#d0e830"/>
<rect x="191.0" y="941.5" width="34.0" height="24.5" fill="#c0d822"/>
<rect x="191.0" y="965.5" width="34.0" height="7.5" fill="#c0d050"/>
<rect x="191.0" y="972.5" width="34.0" height="8.5" fill="#a4c040"/>
<rect x="191.0" y="980.5" width="34.0" height="40.5" fill="#90cc3c"/>
<rect x="191.0" y="1020.5" width="34.0" height="24.5" fill="#78b828"/>
<rect x="191.0" y="1044.5" width="34.0" height="20.5" fill="#70b044"/>
<rect x="191.0" y="1064.5" width="34.0" height="28.5" fill="#5cb848"/>
<rect x="191.0" y="1092.5" width="34.0" height="31.5" fill="#5cb464"/>
<rect x="191.0" y="1123.5" width="34.0" height="49.5" fill="#6cc4a0"/>
<rect x="191.0" y="1172.5" width="34.0" height="48.5" fill="#6cb8c8"/>
<rect x="191.0" y="1220.5" width="34.0" height="24.5" fill="#58a0dc"/>
<rect x="191.0" y="1244.5" width="34.0" height="7.5" fill="#68b0f0"/>
<rect x="191.0" y="1251.5" width="34.0" height="25.5" fill="#4c6cb8"/>
<rect x="191.0" y="1276.5" width="34.0" height="32.5" fill="#3c5aa8"/>
<rect x="191.0" y="1308.5" width="34.0" height="7.5" fill="#2c4490"/>
<rect x="191.0" y="1315.5" width="34.0" height="13.5" fill="#2838b8"/>
<rect x="190.0" y="808.5" width="4" height="520.0" fill="#3a3a3a" opacity="0.55"/>
<rect x="190.0" y="808.5" width="38.0" height="2.5" fill="#4a4a4a" opacity="0.8"/>
<rect x="190.0" y="1326.5" width="38.0" height="2.5" fill="#3a3a3a" opacity="0.8"/>
<rect x="222.0" y="808.5" width="2" height="520.0" fill="#4a5a4a" opacity="0.5"/>
<rect x="224.0" y="807.5" width="5" height="2" fill="#555" opacity="0.7"/>
<rect x="224.0" y="833.5" width="5" height="2" fill="#555" opacity="0.7"/>
<rect x="224.0" y="859.5" width="5" height="2" fill="#555" opacity="0.7"/>
<rect x="224.0" y="885.5" width="5" height="2" fill="#555" opacity="0.7"/>
<rect x="224.0" y="911.5" width="5" height="2" fill="#555" opacity="0.7"/>
<rect x="224.0" y="937.5" width="5" height="2" fill="#555" opacity="0.7"/>
<rect x="224.0" y="963.5" width="5" height="2" fill="#555" opacity="0.7"/>
<rect x="224.0" y="989.5" width="5" height="2" fill="#555" opacity="0.7"/>
<rect x="224.0" y="1015.5" width="5" height="2" fill="#555" opacity="0.7"/>
<rect x="224.0" y="1041.5" width="5" height="2" fill="#555" opacity="0.7"/>
<rect x="224.0" y="1067.5" width="5" height="2" fill="#555" opacity="0.7"/>
<rect x="224.0" y="1093.5" width="5" height="2" fill="#555" opacity="0.7"/>
<rect x="224.0" y="1119.5" width="5" height="2" fill="#555" opacity="0.7"/>
<rect x="224.0" y="1145.5" width="5" height="2" fill="#555" opacity="0.7"/>
<rect x="224.0" y="1171.5" width="5" height="2" fill="#555" opacity="0.7"/>
<rect x="224.0" y="1197.5" width="5" height="2" fill="#555" opacity="0.7"/>
<rect x="224.0" y="1223.5" width="5" height="2" fill="#555" opacity="0.7"/>
<rect x="224.0" y="1249.5" width="5" height="2" fill="#555" opacity="0.7"/>
<rect x="224.0" y="1275.5" width="5" height="2" fill="#555" opacity="0.7"/>
<rect x="224.0" y="1301.5" width="5" height="2" fill="#555" opacity="0.7"/>
<rect x="224.0" y="1327.5" width="5" height="2" fill="#555" opacity="0.7"/>
</g>
<text x="244.8" y="825.0" font-size="55.0" >350</text>
<text x="244.8" y="877.0" font-size="55.0" >315</text>
<text x="244.8" y="929.0" font-size="55.0" >280</text>
<text x="244.8" y="981.0" font-size="55.0" >245</text>
<text x="244.8" y="1033.0" font-size="55.0" >210</text>
<text x="244.8" y="1085.0" font-size="55.0" >175</text>
<text x="244.8" y="1137.0" font-size="55.0" >140</text>
<text x="244.8" y="1189.0" font-size="55.0" >105</text>
<text x="244.8" y="1241.0" font-size="55.0" >70</text>
<text x="244.8" y="1293.0" font-size="55.0" >35</text>
<text x="244.8" y="1345.0" font-size="55.0" >0</text>
<text x="99.5" y="769.5" font-size="55.0" >(d)</text>
<text x="198.0" y="772.0" font-size="54.0" font-weight="300" textLength="110.5">速度</text>
<text x="187.5" y="1390.0" font-size="55">(m·s<tspan dy="-20" font-size="33">−1</tspan><tspan dy="20" font-size="55">)</tspan></text>
<g>
<rect x="343.7" y="1056.0" width="375.9" height="3.1" fill="#4c80a0"/>
<rect x="343.7" y="1058.8" width="375.9" height="10.1" fill="#88cc1c"/>
<rect x="343.7" y="1068.6" width="375.9" height="11.5" fill="#90c83c"/>
<rect x="343.7" y="1079.8" width="375.9" height="4.5" fill="#6c9c50"/>
</g>
<g transform="translate(-0.5 727.0) translate(720 340) scale(1.0000) translate(-720 -340)">
<g clip-path="url(#fclipd)" filter="url(#soft)">
<rect x="700" y="180" width="450" height="230" fill="#3d5aa8"/>
<path d="M1056 190 L1140 180 L1140 300 L1116 250 L1098 222 L1072 214Z" fill="#2b4696"/>
<path d="M984 327 L1010 300 L1040 266 L1058 264 L1056 302 L1040 322 L1030 330Z" fill="#2b4696"/>
<path d="M896 322 L1036 322 L1030 331 L896 331Z" fill="#2f4a9a"/>
<path d="M1030 338 C1052 326 1066 306 1076 284 C1080 270 1086 264 1094 264 C1106 264 1110 272 1109 286 C1107 316 1100 350 1072 386 L1030 386Z" fill="#4a92d4"/>
<path d="M1080 300 C1084 282 1090 272 1097 272 C1103 274 1104 290 1100 314 C1096 336 1090 350 1082 360 L1070 340Z" fill="#5aa4e0"/>
<path d="M715 320 L783.5 336.2 L811 336.1 L900 336.3 L1045 336.5 L1076 352 L1090 402 L715 402Z" fill="url(#bandd)"/>
<path d="M716 332.1 L792 334.6 L792 337.7 L716 337.3 Z" fill="#8e988e" opacity="0.85"/>
<path d="M716 351.4 L778 352.4 L778 358.0 L716 357.0 Z" fill="#8c8c8c" opacity="0.85"/>
<path d="M811 336 L912 336.5 L912 343 L850 343 L820 341Z" fill="#4cb888" opacity="0.75"/>
<path d="M790 356 L830 362 L930 382 L930 390 L790 362Z" fill="#48c040" opacity="0.7"/>
<path d="M905 337 L1042 337 L1036 342.5 L905 342Z" fill="#2e88d0" opacity="0.9"/>
<path d="M950 342 L1050 341.5 L1072 336 L1090 350 L1066 354 L1000 354 L960 352Z" fill="#6ab2ee"/>
<path d="M1066 376 L1090 350 L1100 360 L1084 392 L1050 396Z" fill="#34a4dc" opacity="0.8"/>
</g>
</g>
<line x1="658.7" y1="1056.0" x2="723.0" y2="1070.0" stroke="#143c58" stroke-width="2.8" opacity="0.45"/><line x1="576.0" y1="1038.0" x2="660.7" y2="1056.4" stroke="#20323c" stroke-width="2.6" stroke-linecap="round"/>
<g>
<rect x="638.2" y="1256.2" width="189.2" height="9" fill="#fff" stroke="#555" stroke-width="1"/>
<rect x="638.2" y="1255.9" width="47.3" height="9.6" fill="#111"/>
<rect x="732.8" y="1255.9" width="47.3" height="9.6" fill="#111"/>
</g>
<text x="623.5" y="1240.8" font-size="53.7" >0</text>
<text x="696.5" y="1240.8" font-size="53.7" >0.5</text>
<text x="787.0" y="1240.8" font-size="53.7" >1.0</text>
<text x="873.5" y="1240.8" font-size="53.7" >m</text>
<g>
<line x1="1010.0" y1="1298.3" x2="1010.0" y2="1234.3" stroke="#4a3ca0" stroke-width="3.4"/>
<path d="M1010.0 1216.8 l-7.5 18 l15 0Z" fill="#5a48c8"/>
<line x1="1010.0" y1="1298.3" x2="1074.0" y2="1298.3" stroke="#c83060" stroke-width="3.4"/>
<path d="M1092.0 1298.3 l-18 -7.5 l0 15Z" fill="#f0205c"/>
<circle cx="1009.5" cy="1298.8" r="7.5" fill="#2f7464"/>
<circle cx="1052.3" cy="1256.3" r="8.3" fill="#50b898"/>
</g>
<text x="998.0" y="1206.3" font-size="56.0" font-style="italic">z</text>
<text x="1098.0" y="1307.3" font-size="58.0" font-style="italic">x</text>
</g>
<g id="panel-e">
<g filter="url(#soft2)">
<rect x="1239.0" y="808.5" width="34.0" height="11.5" fill="#e62a14"/>
<rect x="1239.0" y="819.5" width="34.0" height="17.5" fill="#e6402a"/>
<rect x="1239.0" y="836.5" width="34.0" height="24.5" fill="#e06034"/>
<rect x="1239.0" y="860.5" width="34.0" height="8.5" fill="#f0784c"/>
<rect x="1239.0" y="868.5" width="34.0" height="17.5" fill="#f08022"/>
<rect x="1239.0" y="885.5" width="34.0" height="7.5" fill="#f0a034"/>
<rect x="1239.0" y="892.5" width="34.0" height="20.5" fill="#e8a818"/>
<rect x="1239.0" y="912.5" width="34.0" height="5.5" fill="#f8c024"/>
<rect x="1239.0" y="917.5" width="34.0" height="14.5" fill="#e8d034"/>
<rect x="1239.0" y="931.5" width="34.0" height="10.5" fill="#d0e830"/>
<rect x="1239.0" y="941.5" width="34.0" height="24.5" fill="#c0d822"/>
<rect x="1239.0" y="965.5" width="34.0" height="7.5" fill="#c0d050"/>
<rect x="1239.0" y="972.5" width="34.0" height="8.5" fill="#a4c040"/>
<rect x="1239.0" y="980.5" width="34.0" height="40.5" fill="#90cc3c"/>
<rect x="1239.0" y="1020.5" width="34.0" height="24.5" fill="#78b828"/>
<rect x="1239.0" y="1044.5" width="34.0" height="20.5" fill="#70b044"/>
<rect x="1239.0" y="1064.5" width="34.0" height="28.5" fill="#5cb848"/>
<rect x="1239.0" y="1092.5" width="34.0" height="31.5" fill="#5cb464"/>
<rect x="1239.0" y="1123.5" width="34.0" height="49.5" fill="#6cc4a0"/>
<rect x="1239.0" y="1172.5" width="34.0" height="48.5" fill="#6cb8c8"/>
<rect x="1239.0" y="1220.5" width="34.0" height="24.5" fill="#58a0dc"/>
<rect x="1239.0" y="1244.5" width="34.0" height="7.5" fill="#68b0f0"/>
<rect x="1239.0" y="1251.5" width="34.0" height="25.5" fill="#4c6cb8"/>
<rect x="1239.0" y="1276.5" width="34.0" height="32.5" fill="#3c5aa8"/>
<rect x="1239.0" y="1308.5" width="34.0" height="7.5" fill="#2c4490"/>
<rect x="1239.0" y="1315.5" width="34.0" height="13.5" fill="#2838b8"/>
<rect x="1238.0" y="808.5" width="4" height="520.0" fill="#3a3a3a" opacity="0.55"/>
<rect x="1238.0" y="808.5" width="38.0" height="2.5" fill="#4a4a4a" opacity="0.8"/>
<rect x="1238.0" y="1326.5" width="38.0" height="2.5" fill="#3a3a3a" opacity="0.8"/>
<rect x="1270.0" y="808.5" width="2" height="520.0" fill="#4a5a4a" opacity="0.5"/>
<rect x="1272.0" y="807.5" width="5" height="2" fill="#555" opacity="0.7"/>
<rect x="1272.0" y="833.5" width="5" height="2" fill="#555" opacity="0.7"/>
<rect x="1272.0" y="859.5" width="5" height="2" fill="#555" opacity="0.7"/>
<rect x="1272.0" y="885.5" width="5" height="2" fill="#555" opacity="0.7"/>
<rect x="1272.0" y="911.5" width="5" height="2" fill="#555" opacity="0.7"/>
<rect x="1272.0" y="937.5" width="5" height="2" fill="#555" opacity="0.7"/>
<rect x="1272.0" y="963.5" width="5" height="2" fill="#555" opacity="0.7"/>
<rect x="1272.0" y="989.5" width="5" height="2" fill="#555" opacity="0.7"/>
<rect x="1272.0" y="1015.5" width="5" height="2" fill="#555" opacity="0.7"/>
<rect x="1272.0" y="1041.5" width="5" height="2" fill="#555" opacity="0.7"/>
<rect x="1272.0" y="1067.5" width="5" height="2" fill="#555" opacity="0.7"/>
<rect x="1272.0" y="1093.5" width="5" height="2" fill="#555" opacity="0.7"/>
<rect x="1272.0" y="1119.5" width="5" height="2" fill="#555" opacity="0.7"/>
<rect x="1272.0" y="1145.5" width="5" height="2" fill="#555" opacity="0.7"/>
<rect x="1272.0" y="1171.5" width="5" height="2" fill="#555" opacity="0.7"/>
<rect x="1272.0" y="1197.5" width="5" height="2" fill="#555" opacity="0.7"/>
<rect x="1272.0" y="1223.5" width="5" height="2" fill="#555" opacity="0.7"/>
<rect x="1272.0" y="1249.5" width="5" height="2" fill="#555" opacity="0.7"/>
<rect x="1272.0" y="1275.5" width="5" height="2" fill="#555" opacity="0.7"/>
<rect x="1272.0" y="1301.5" width="5" height="2" fill="#555" opacity="0.7"/>
<rect x="1272.0" y="1327.5" width="5" height="2" fill="#555" opacity="0.7"/>
</g>
<text x="1292.6" y="825.0" font-size="55.0" >350</text>
<text x="1292.6" y="877.0" font-size="55.0" >315</text>
<text x="1292.6" y="929.0" font-size="55.0" >280</text>
<text x="1292.6" y="981.0" font-size="55.0" >245</text>
<text x="1292.6" y="1033.0" font-size="55.0" >210</text>
<text x="1292.6" y="1085.0" font-size="55.0" >175</text>
<text x="1292.6" y="1137.0" font-size="55.0" >140</text>
<text x="1292.6" y="1189.0" font-size="55.0" >105</text>
<text x="1292.6" y="1241.0" font-size="55.0" >70</text>
<text x="1292.6" y="1293.0" font-size="55.0" >35</text>
<text x="1292.6" y="1345.0" font-size="55.0" >0</text>
<text x="1139.5" y="769.5" font-size="55.0" >(e)</text>
<text x="1245.8" y="772.0" font-size="54.0" font-weight="300" textLength="110.5">速度</text>
<text x="1236.5" y="1390.0" font-size="55">(m·s<tspan dy="-20" font-size="33">−1</tspan><tspan dy="20" font-size="55">)</tspan></text>
<g>
<rect x="1396.6" y="1056.6" width="374.4" height="3.3" fill="#4c88a0"/>
<rect x="1396.6" y="1059.6" width="374.4" height="3.3" fill="#78b850"/>
<rect x="1396.6" y="1062.6" width="374.4" height="12.2" fill="#88d010"/>
<rect x="1396.6" y="1074.5" width="374.4" height="6.3" fill="#90c838"/>
<rect x="1396.6" y="1080.4" width="374.4" height="6.3" fill="#5ca468"/>
</g>
<g transform="translate(1051.0 729.0) translate(720 340) scale(1.0100) translate(-720 -340)">
<g clip-path="url(#fclipe)" filter="url(#soft)">
<rect x="700" y="180" width="450" height="230" fill="#3d5aa8"/>
<path d="M1056 190 L1140 180 L1140 300 L1116 250 L1098 222 L1072 214Z" fill="#2b4696"/>
<path d="M984 327 L1010 300 L1040 266 L1058 264 L1056 302 L1040 322 L1030 330Z" fill="#2b4696"/>
<path d="M896 322 L1036 322 L1030 331 L896 331Z" fill="#2f4a9a"/>
<path d="M1030 338 C1052 326 1066 306 1076 284 C1080 270 1086 264 1094 264 C1106 264 1110 272 1109 286 C1107 316 1100 350 1072 386 L1030 386Z" fill="#4a92d4"/>
<path d="M1080 300 C1084 282 1090 272 1097 272 C1103 274 1104 290 1100 314 C1096 336 1090 350 1082 360 L1070 340Z" fill="#5aa4e0"/>
<path d="M715 320 L783.5 336.1 L811 336.0 L900 336.3 L1045 336.5 L1076 352 L1090 402 L715 402Z" fill="url(#bande)"/>
<path d="M716 331.9 L792 334.4 L792 337.5 L716 337.1 Z" fill="#8e988e" opacity="0.85"/>
<path d="M716 351.3 L778 352.3 L778 357.9 L716 356.9 Z" fill="#8c8c8c" opacity="0.85"/>
<path d="M811 336 L912 336.5 L912 343 L850 343 L820 341Z" fill="#4cb888" opacity="0.75"/>
<path d="M790 356 L830 362 L930 382 L930 390 L790 362Z" fill="#48c040" opacity="0.7"/>
<path d="M905 337 L1042 337 L1036 342.5 L905 342Z" fill="#2e88d0" opacity="0.9"/>
<path d="M950 342 L1050 341.5 L1072 336 L1090 350 L1066 354 L1000 354 L960 352Z" fill="#6ab2ee"/>
<path d="M1066 376 L1090 350 L1100 360 L1084 392 L1050 396Z" fill="#34a4dc" opacity="0.8"/>
</g>
</g>
<line x1="1704.7" y1="1056.6" x2="1773.0" y2="1071.0" stroke="#143c58" stroke-width="2.8" opacity="0.85"/><line x1="1626.0" y1="1040.0" x2="1706.7" y2="1057.0" stroke="#20323c" stroke-width="2.6" stroke-linecap="round"/>
<g>
<rect x="1686.7" y="1256.6" width="189.2" height="9" fill="#fff" stroke="#555" stroke-width="1"/>
<rect x="1686.7" y="1256.3" width="47.3" height="9.6" fill="#111"/>
<rect x="1781.3" y="1256.3" width="47.3" height="9.6" fill="#111"/>
</g>
<text x="1671.8" y="1240.8" font-size="53.7" >0</text>
<text x="1744.8" y="1240.8" font-size="53.7" >0.5</text>
<text x="1835.3" y="1240.8" font-size="53.7" >1.0</text>
<text x="1921.8" y="1240.8" font-size="53.7" >m</text>
<g>
<line x1="2057.0" y1="1298.5" x2="2057.0" y2="1234.5" stroke="#4a3ca0" stroke-width="3.4"/>
<path d="M2057.0 1217.0 l-7.5 18 l15 0Z" fill="#5a48c8"/>
<line x1="2057.0" y1="1298.5" x2="2121.0" y2="1298.5" stroke="#c83060" stroke-width="3.4"/>
<path d="M2139.0 1298.5 l-18 -7.5 l0 15Z" fill="#f0205c"/>
<circle cx="2056.5" cy="1299.0" r="7.5" fill="#2f7464"/>
<circle cx="2099.3" cy="1256.5" r="8.3" fill="#50b898"/>
</g>
<text x="2045.0" y="1206.5" font-size="56.0" font-style="italic">z</text>
<text x="2145.0" y="1307.5" font-size="58.0" font-style="italic">x</text>
</g>
<text y="1490" font-size="55" xml:space="preserve"><tspan x="585.5">(a) </tspan><tspan x="665.0" font-size="53" font-weight="300" textLength="219">富氧率为</tspan><tspan x="885.0"> 3%</tspan><tspan x="975.0" font-weight="300">；</tspan><tspan x="1029.5">(b) </tspan><tspan x="1109.0" font-size="53" font-weight="300" textLength="219">富氧率为</tspan><tspan x="1329.0"> 5%</tspan><tspan x="1419.0" font-weight="300">；</tspan><tspan x="1473.6">(c) </tspan><tspan x="1553.1" font-size="53" font-weight="300" textLength="219">富氧率为</tspan><tspan x="1773.1"> 7%</tspan><tspan x="1863.1" font-weight="300">；</tspan><tspan x="1917.7">(d) </tspan><tspan x="1997.2" font-size="53" font-weight="300" textLength="219">富氧率为</tspan><tspan x="2217.2"> 9%</tspan><tspan x="2307.2" font-weight="300">；</tspan><tspan x="2361.7">(e) </tspan><tspan x="2441.2" font-size="53" font-weight="300" textLength="219">富氧率为</tspan><tspan x="2661.2"> 11%</tspan></text>
</svg></body></html>
